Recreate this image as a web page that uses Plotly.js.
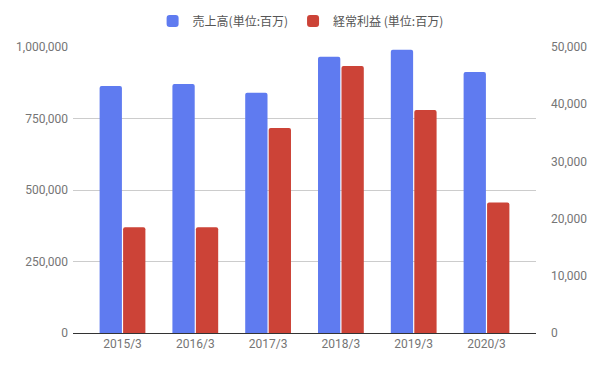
<!DOCTYPE html>
<html>
<head>
<meta charset="utf-8">
<script src="https://cdn.plot.ly/plotly-3.0.1.min.js"></script>
<style>html,body{margin:0;padding:0;background:#fff;}#chart{width:594px;height:370px;}</style>
</head>
<body>
<div id="chart"></div>
<script>
const categories = ["2015/3", "2016/3", "2017/3", "2018/3", "2019/3", "2020/3"];
const salesName = "売上高(単位:百万)";
const profitName = "経常利益 (単位:百万)";
const sales = [864000, 871000, 840000, 966000, 990000, 913000];
const profit = [18500, 18500, 35850, 46700, 39000, 22800];
const leftTicks = [0, 250000, 500000, 750000, 1000000];
const leftTickText = ["0", "250,000", "500,000", "750,000", "1,000,000"];
const rightTicks = [0, 10000, 20000, 30000, 40000, 50000];
const rightTickText = ["0", "10,000", "20,000", "30,000", "40,000", "50,000"];

const font = {family: "Roboto, Arial, sans-serif", size: 12, color: "#757575"};

const traces = [
  {type: "bar", x: categories, y: sales, name: salesName, yaxis: "y", offsetgroup: "1",
   marker: {color: "#5f7bf0", line: {width: 0}}},
  {type: "bar", x: categories, y: profit, name: profitName, yaxis: "y2", offsetgroup: "2",
   marker: {color: "#cc4337", line: {width: 0}}}
];

const layout = {
  width: 594, height: 370,
  margin: {l: 73, r: 58, t: 47, b: 37},
  paper_bgcolor: "#fff", plot_bgcolor: "#fff",
  font: font,
  barmode: "group",
  bargap: 0.355,
  bargroupgap: 0.05,
  barcornerradius: 2,
  showlegend: true,
  legend: {orientation: "h", x: 0.5 - 5/594, xanchor: "center", y: 1 - 21/370, yanchor: "middle", yref: "container",
           xref: "paper",
           font: {family: "'Noto Sans CJK JP', Roboto, sans-serif", size: 12, color: "#555"},
           traceorder: "normal"},
  xaxis: {type: "category", range: [-0.68, 5.68], showgrid: false, zeroline: false,
          showline: true, linecolor: "#333", linewidth: 1, ticks: "", tickfont: font},
  yaxis: {range: [0, 1000000], tickvals: leftTicks, ticktext: leftTickText, showgrid: true,
          gridcolor: "#ccc", gridwidth: 1, zeroline: false, showline: false, ticks: "",
          tickfont: font, ticklabelstandoff: 4},
  yaxis2: {overlaying: "y", side: "right", range: [0, 50000], tickvals: rightTicks, ticktext: rightTickText,
           showgrid: false, zeroline: false, showline: false, ticks: "", tickfont: font, ticklabelstandoff: 14}
};

Plotly.newPlot("chart", traces, layout, {displayModeBar: false, staticPlot: true});
</script>
</body>
</html>
